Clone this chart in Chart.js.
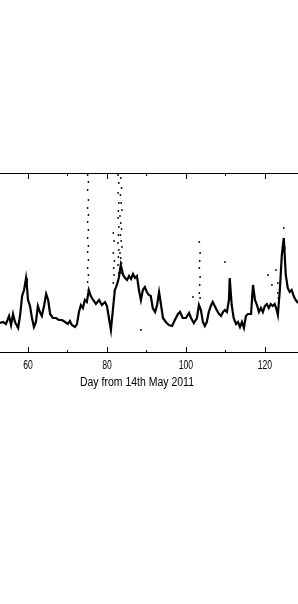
<!DOCTYPE html>
<html>
<head>
<meta charset="utf-8">
<script src="https://cdn.jsdelivr.net/npm/chart.js"></script>
<style>body{margin:0;background:#fff;} canvas{display:block;}</style>
</head>
<body>
<canvas id="c" width="298" height="604"></canvas>
<script>
// main trace (day, arbitrary units)
const days = [52.9,53.7,54.4,55.2,55.7,56.2,56.7,57.5,58.0,58.5,59.0,59.5,59.7,60.0,60.5,61.0,61.5,62.0,62.5,63.0,
  63.5,64.1,64.6,65.1,65.6,66.3,67.1,67.8,68.6,69.4,70.1,70.6,71.1,71.9,72.4,72.9,73.4,73.9,74.4,74.9,
  75.4,75.9,76.5,77.2,78.0,78.7,79.5,80.0,80.5,81.0,81.5,82.0,82.5,83.0,83.5,84.1,84.6,85.1,85.6,86.1,
  86.6,87.1,87.6,88.1,88.6,89.1,89.6,90.1,90.6,91.1,91.6,92.2,92.7,93.2,93.7,94.2,94.9,95.7,96.5,97.2,
  98.0,98.5,99.2,100.0,100.8,101.3,102.0,102.8,103.3,103.8,104.3,104.8,105.3,105.8,106.3,106.8,107.3,107.8,108.4,108.9,
  109.4,109.9,110.4,110.9,111.1,111.6,112.1,112.7,113.2,113.7,114.2,114.7,115.2,115.7,116.5,117.0,117.5,118.0,118.5,119.0,
  119.5,120.0,120.5,121.0,121.5,122.0,122.5,123.0,123.3,123.8,124.3,124.8,125.3,125.8,126.3,126.8,127.3,127.8,128.4];
const values = [30,31,29,37,28,39,31,25,38,57,63,75,68,53,47,35,26,31,47,41,
  37,48,59,53,39,35,35,33,33,31,29,32,28,26,29,41,48,45,53,51,
  63,57,53,49,53,48,51,47,35,23,43,63,68,75,88,78,75,73,77,74,
  79,75,77,63,53,63,66,61,58,57,45,41,48,61,48,35,31,28,27,33,
  39,41,35,35,40,35,30,35,48,43,31,27,31,41,47,51,47,43,39,37,
  41,43,41,53,75,48,35,29,31,26,31,25,37,39,39,68,53,48,41,45,
  41,47,49,45,49,47,49,43,38,63,98,115,78,65,61,63,57,53,50];

// scattered dots of the spikes
const dotDays = [75.1,75.3,75.1,75.3,75.1,75.3,75.1,75.3,75.1,75.3,75.1,75.3,75.1,75.3,75.1,75.3,
  81.6,81.8,81.6,81.9,81.7,81.8,81.6,81.9,81.7,
  82.8,83.0,82.8,83.0,82.9,82.8,83.0,82.9,82.8,83.0,82.9,82.8,83.0,
  83.3,83.5,83.7,83.4,83.6,83.8,83.3,83.5,83.7,83.4,83.6,83.8,83.3,83.5,83.7,83.4,83.6,
  103.4,103.6,103.5,103.4,103.6,103.5,103.4,103.6,
  109.9,120.8,121.8,122.8,123.3,123.3,123.4,124.8,125.1,125.1,88.6,101.8];
const dotValues = [178,171,163,153,145,138,131,123,115,107,101,93,85,78,71,63,
  120,112,100,92,85,78,70,62,55,
  178,170,160,150,142,135,126,118,110,103,96,88,80,
  180,175,165,158,150,143,137,130,124,118,112,106,100,95,90,85,80,
  111,100,92,85,76,68,60,55,
  91,78,68,83,70,60,55,125,105,95,23,56];

const majorTicks = [60,80,100,120];
const minorTicks = [70,90,110];
const xTitle = 'Day from 14th May 2011';

const frame = {
  id: 'frame',
  afterDraw(chart) {
    const ctx = chart.ctx, a = chart.chartArea, xs = chart.scales.x;
    ctx.save();
    ctx.strokeStyle = '#000';
    ctx.lineWidth = 1;
    ctx.beginPath();
    ctx.moveTo(0, a.top + 0.5); ctx.lineTo(chart.width, a.top + 0.5);
    ctx.moveTo(0, a.bottom - 0.5); ctx.lineTo(chart.width, a.bottom - 0.5);
    majorTicks.forEach(t => {
      const x = Math.round(xs.getPixelForValue(t)) + 0.5;
      ctx.moveTo(x, a.bottom); ctx.lineTo(x, a.bottom - 6);
      ctx.moveTo(x, a.top); ctx.lineTo(x, a.top + 6);
    });
    minorTicks.forEach(t => {
      const x = Math.round(xs.getPixelForValue(t)) + 0.5;
      ctx.moveTo(x, a.bottom); ctx.lineTo(x, a.bottom - 3);
      ctx.moveTo(x, a.top); ctx.lineTo(x, a.top + 3);
    });
    ctx.stroke();

    ctx.fillStyle = '#000';
    ctx.font = '12px "Liberation Sans"';
    ctx.textAlign = 'center';
    ctx.textBaseline = 'middle';
    majorTicks.forEach(t => {
      const x = xs.getPixelForValue(t);
      ctx.save();
      ctx.translate(x, a.bottom + 13);
      ctx.scale(0.72, 1);
      ctx.fillText(String(t), 0, 0);
      ctx.restore();
    });
    ctx.save();
    ctx.translate(xs.getPixelForValue(87.6), a.bottom + 30);
    const w = ctx.measureText(xTitle).width;
    ctx.scale(114 / w, 1);
    ctx.fillText(xTitle, 0, 0);
    ctx.restore();
    ctx.restore();
  }
};

new Chart(document.getElementById('c'), {
  type: 'scatter',
  data: {
    datasets: [
      {
        data: days.map((d, i) => ({ x: d, y: values[i] })),
        showLine: true,
        borderColor: '#000',
        borderWidth: 2.2,
        pointRadius: 0,
        tension: 0
      },
      {
        data: dotDays.map((d, i) => ({ x: d, y: dotValues[i] })),
        backgroundColor: '#000',
        borderWidth: 0,
        pointRadius: 0.9
      }
    ]
  },
  options: {
    responsive: false,
    animation: false,
    layout: { autoPadding: false, padding: { top: 173, bottom: 251, left: 0, right: 0 } },
    plugins: { legend: { display: false }, tooltip: { enabled: false } },
    scales: {
      x: { type: 'linear', min: 52.9, max: 128.4, display: false },
      y: { min: 0, max: 180, display: false }
    }
  },
  plugins: [frame]
});
</script>
</body>
</html>
